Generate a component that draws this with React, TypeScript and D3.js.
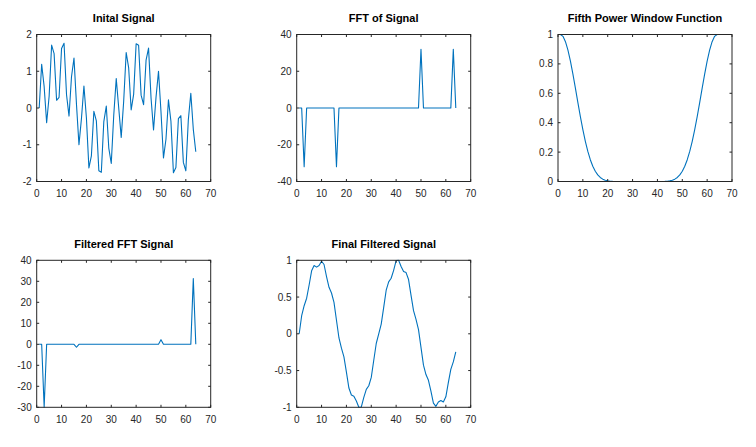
import * as d3 from "d3";

// sample index (1..64), as plotted on the x axis
const sampleIdx = d3.range(1, 65);

const initialSignal = [
  0, 1.19, 0.58, -0.4, 0.32, 1.71, 1.48, 0.21, 0.29, 1.62, 1.76, 0.36, -0.22, 0.85, 1.36, 0.1,
  -1.0, -0.29, 0.6, -0.27, -1.63, -1.3, -0.09, -0.35, -1.71, -1.75, -0.37, 0.05, -1.09, -1.51, -0.19, 0.8,
  0, -0.8, 0.19, 1.51, 1.09, -0.05, 0.37, 1.75, 1.71, 0.35, 0.09, 1.3, 1.63, 0.27, -0.6, 0.29,
  1.0, -0.1, -1.36, -0.85, 0.22, -0.36, -1.76, -1.62, -0.29, -0.21, -1.48, -1.71, -0.32, 0.4, -0.58, -1.19,
];

const fftSignal = [
  0, 0, -32, 0, 0, 0, 0, 0, 0, 0, 0, 0, 0, 0, 0, -32,
  0, 0, 0, 0, 0, 0, 0, 0, 0, 0, 0, 0, 0, 0, 0, 0,
  0, 0, 0, 0, 0, 0, 0, 0, 0, 0, 0, 0, 0, 0, 0, 0,
  0, 32, 0, 0, 0, 0, 0, 0, 0, 0, 0, 0, 0, 0, 32, 0,
];

const windowFn = [
  1, 0.9876, 0.9514, 0.8938, 0.8185, 0.7304, 0.6348, 0.5368, 0.4414, 0.3524, 0.273, 0.2046, 0.1483, 0.1036, 0.0696, 0.0448,
  0.0275, 0.0161, 0.0089, 0.0046, 0.0022, 0.001, 0.0004, 0.0001, 0, 0, 0, 0, 0, 0, 0, 0,
  0, 0, 0, 0, 0, 0, 0, 0, 0.0001, 0.0004, 0.001, 0.0022, 0.0046, 0.0089, 0.0161, 0.0275,
  0.0448, 0.0696, 0.1036, 0.1483, 0.2046, 0.273, 0.3524, 0.4414, 0.5368, 0.6348, 0.7304, 0.8185, 0.8938, 0.9514, 0.9876, 1,
];

const filteredFft = [
  0, 0, -30, 0, 0, 0, 0, 0, 0, 0, 0, 0, 0, 0, 0, -1.4,
  0, 0, 0, 0, 0, 0, 0, 0, 0, 0, 0, 0, 0, 0, 0, 0,
  0, 0, 0, 0, 0, 0, 0, 0, 0, 0, 0, 0, 0, 0, 0, 0,
  0, 2.2, 0, 0, 0, 0, 0, 0, 0, 0, 0, 0, 0, 0, 31.3, 0,
];

const finalSignal = [
  0, 0.246, 0.382, 0.484, 0.664, 0.857, 0.928, 0.907, 0.929, 0.987, 0.943, 0.779, 0.633, 0.555, 0.427, 0.184,
  -0.057, -0.195, -0.315, -0.522, -0.738, -0.833, -0.848, -0.915, -1.0, -0.995, -0.864, -0.756, -0.707, -0.593, -0.36, -0.132,
  0, 0.132, 0.36, 0.593, 0.707, 0.756, 0.864, 0.995, 1.0, 0.915, 0.848, 0.833, 0.738, 0.522, 0.315, 0.195,
  0.057, -0.184, -0.427, -0.555, -0.633, -0.779, -0.943, -0.987, -0.929, -0.907, -0.928, -0.857, -0.664, -0.484, -0.382, -0.246,
];

const xTicks = [0, 10, 20, 30, 40, 50, 60, 70];

const titles = [
  "Inital Signal",
  "FFT of Signal",
  "Fifth Power Window Function",
  "Filtered FFT Signal",
  "Final Filtered Signal",
];

const panels = [
  { title: titles[0], values: initialSignal, yDomain: [-2, 2], yTicks: [-2, -1, 0, 1, 2], col: 0, row: 0 },
  { title: titles[1], values: fftSignal, yDomain: [-40, 40], yTicks: [-40, -20, 0, 20, 40], col: 1, row: 0 },
  { title: titles[2], values: windowFn, yDomain: [0, 1], yTicks: [0, 0.2, 0.4, 0.6, 0.8, 1], col: 2, row: 0 },
  { title: titles[3], values: filteredFft, yDomain: [-30, 40], yTicks: [-30, -20, -10, 0, 10, 20, 30, 40], col: 0, row: 1 },
  { title: titles[4], values: finalSignal, yDomain: [-1, 1], yTicks: [-1, -0.5, 0, 0.5, 1], col: 1, row: 1 },
];

const colLeft = [36.7, 296.7, 558];
const rowTop = [34.5, 260.3];
const axW = 174;
const axH = 147;

const font = "'Liberation Sans', Arial, Helvetica, sans-serif";
const axisColor = "#262626";
const lineColor = "#0072BD";

function Subplot({ p, i }: { p: any; i: number }) {
  const x0 = colLeft[p.col];
  const y0 = rowTop[p.row];
  const x = d3.scaleLinear().domain([0, 70]).range([x0, x0 + axW]);
  const y = d3.scaleLinear().domain(p.yDomain).range([y0 + axH, y0]);
  const line = d3
    .line<number>()
    .x((_, k) => x(sampleIdx[k]))
    .y((d) => y(d));
  const tk = 2.5;
  const clipId = `clip-${i}`;

  return (
    <g>
      <defs>
        <clipPath id={clipId}>
          <rect x={x0} y={y0 - 1} width={axW} height={axH + 2} />
        </clipPath>
      </defs>
      <text
        x={x0 + axW / 2}
        y={y0 - 12.5}
        textAnchor="middle"
        fontFamily={font}
        fontWeight="bold"
        fontSize={11}
        fill="#000"
      >
        {p.title}
      </text>
      <path
        d={line(p.values) ?? ""}
        fill="none"
        stroke={lineColor}
        strokeWidth={1.1}
        strokeLinejoin="round"
        clipPath={`url(#${clipId})`}
      />
      <rect x={x0} y={y0} width={axW} height={axH} fill="none" stroke={axisColor} strokeWidth={1} />
      {xTicks.map((t) => (
        <g key={`x${t}`}>
          <line x1={x(t)} x2={x(t)} y1={y0 + axH} y2={y0 + axH - tk} stroke={axisColor} />
          <line x1={x(t)} x2={x(t)} y1={y0} y2={y0 + tk} stroke={axisColor} />
          <text
            x={x(t)}
            y={y0 + axH + 15.5}
            textAnchor="middle"
            fontFamily={font}
            fontSize={10}
            fill={axisColor}
          >
            {String(t)}
          </text>
        </g>
      ))}
      {p.yTicks.map((t: number) => (
        <g key={`y${t}`}>
          <line x1={x0} x2={x0 + tk} y1={y(t)} y2={y(t)} stroke={axisColor} />
          <line x1={x0 + axW} x2={x0 + axW - tk} y1={y(t)} y2={y(t)} stroke={axisColor} />
          <text
            x={x0 - 5}
            y={y(t)}
            dy="0.35em"
            textAnchor="end"
            fontFamily={font}
            fontSize={10}
            fill={axisColor}
          >
            {String(t)}
          </text>
        </g>
      ))}
    </g>
  );
}

export default function App() {
  return (
    <svg
      width={756}
      height={447}
      viewBox="0 0 756 447"
      style={{ position: "absolute", left: 0, top: 0, background: "#fff" }}
    >
      <rect width={756} height={447} fill="#fff" />
      {panels.map((p, i) => (
        <Subplot key={i} p={p} i={i} />
      ))}
    </svg>
  );
}
